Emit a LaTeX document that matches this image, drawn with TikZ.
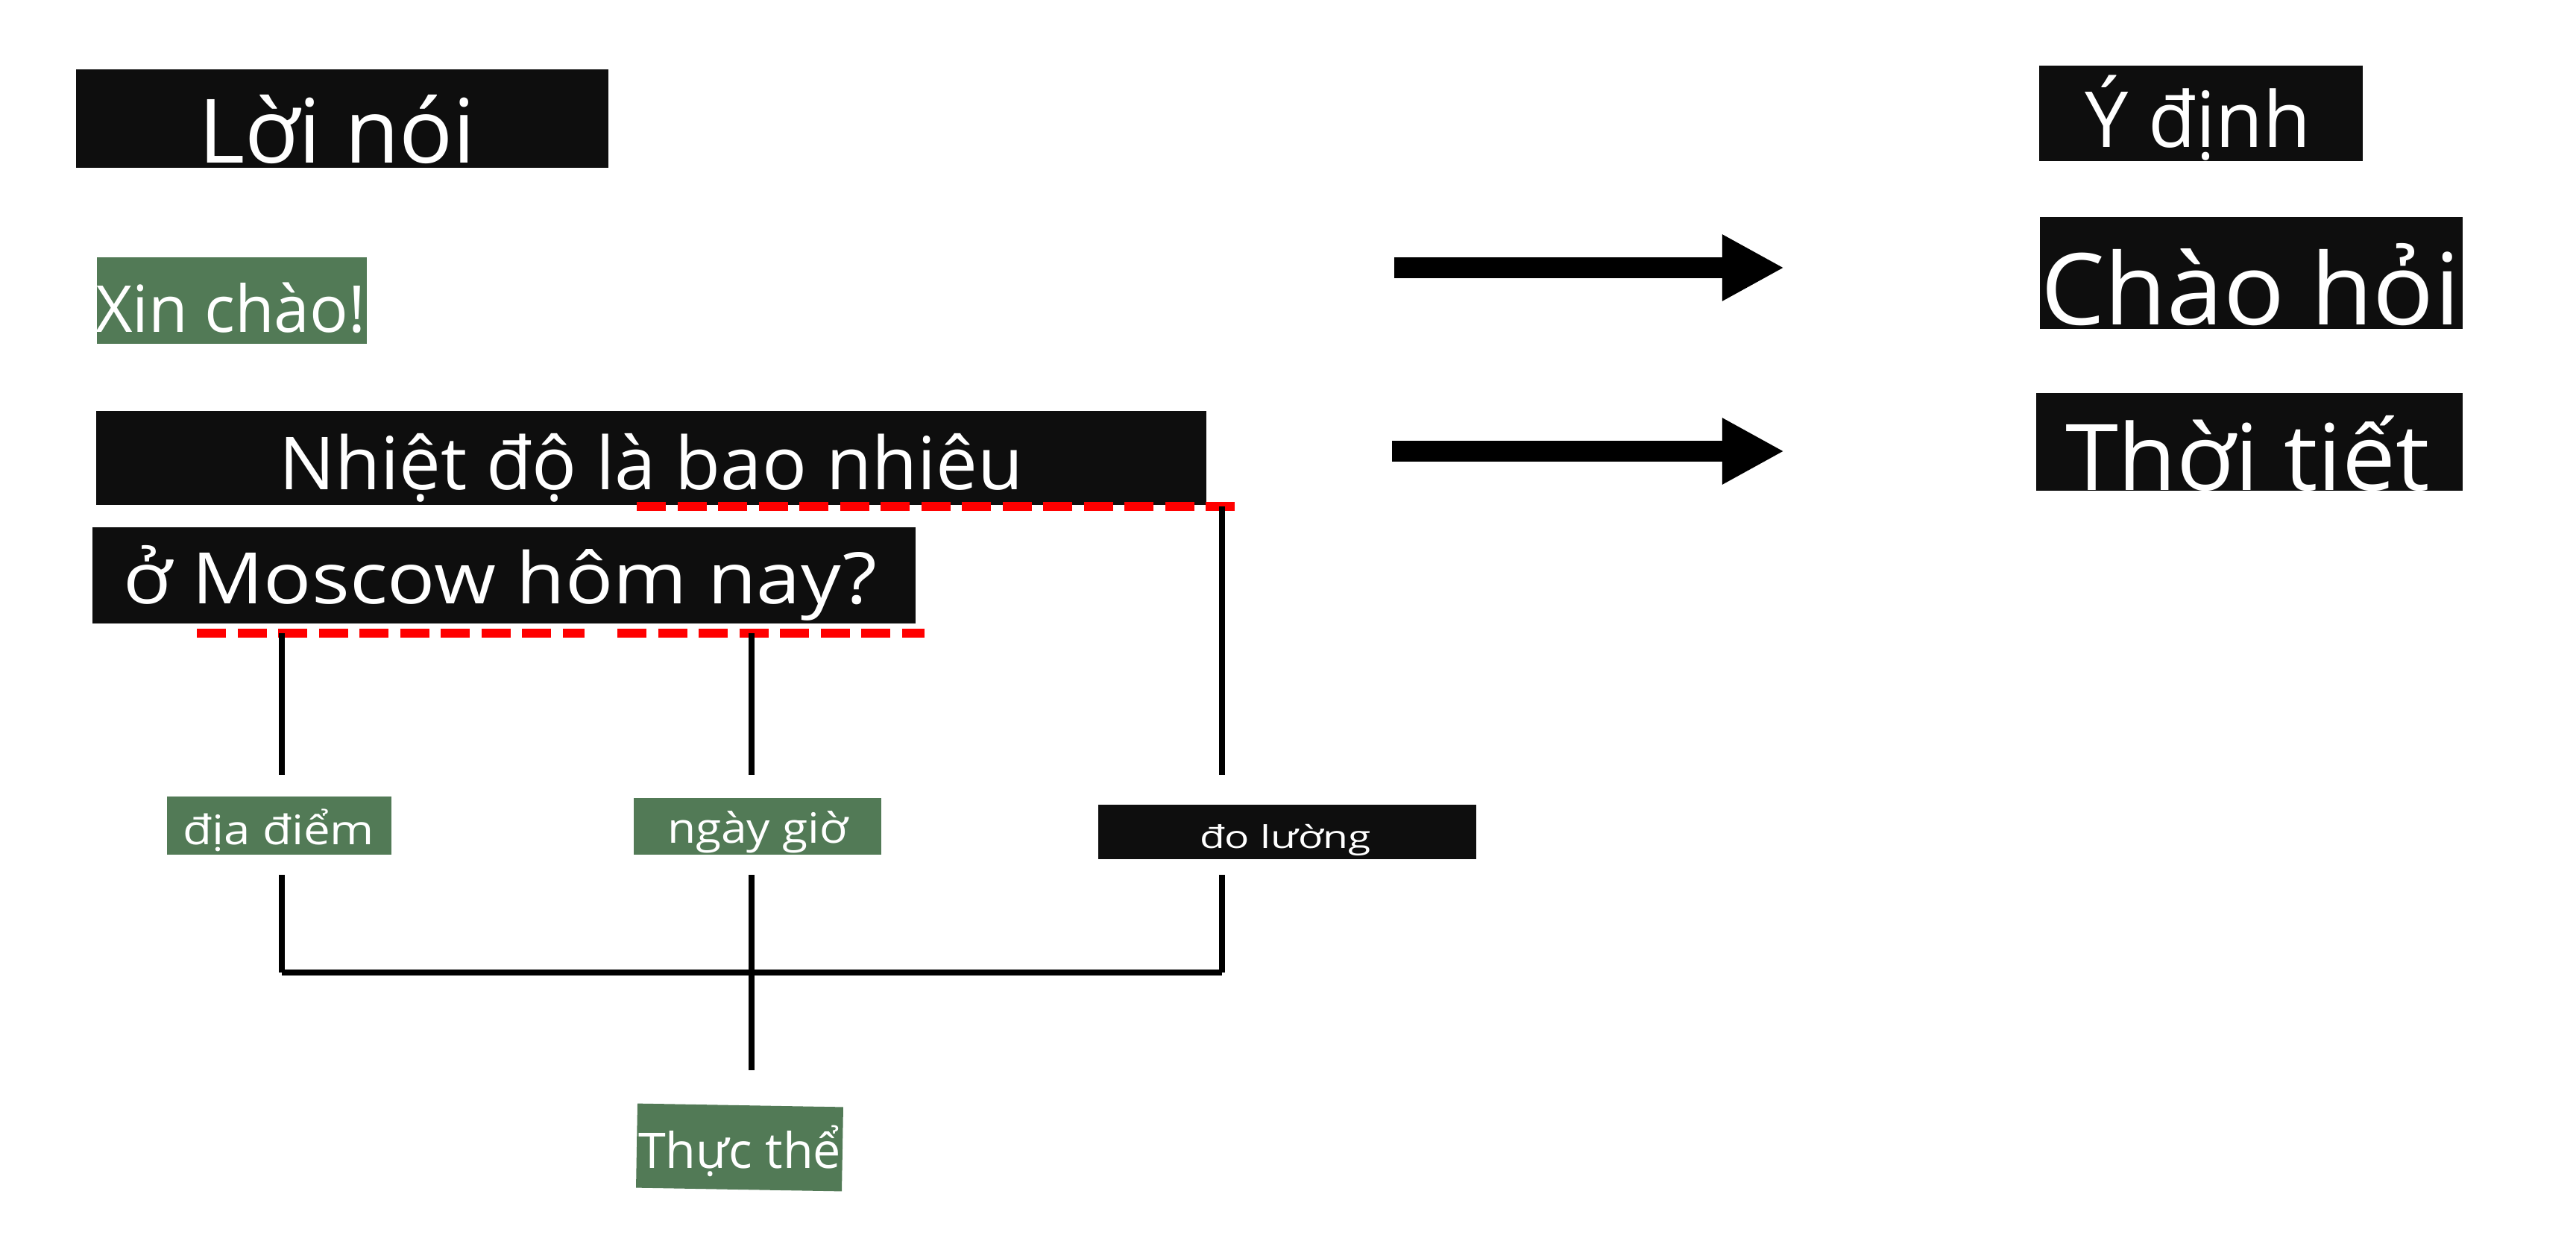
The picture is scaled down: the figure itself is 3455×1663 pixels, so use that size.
\documentclass[tikz,border=0pt]{standalone}
\usepackage{fontspec}
\setmainfont{Open Sans}
\usetikzlibrary{arrows.meta,fit}
\definecolor{boxblack}{HTML}{0E0E0E}
\definecolor{boxgreen}{HTML}{527A56}
\definecolor{dashred}{HTML}{FF0000}
\newcommand{\fitt}[3]{\resizebox{#1cm}{#2cm}{\vphantom{X}\smash{#3}}}
\begin{document}
\begin{tikzpicture}[x=0.01cm, y=-0.01cm,
  bx/.style={inner sep=0, outer sep=0, draw=none},
  blk/.style={bx, fill=boxblack},
  grn/.style={bx, fill=boxgreen},
  lbl/.style={inner sep=0, outer sep=0, anchor=base west, text=white},
  link/.style={line width=0.08cm, black},
  redline/.style={line width=0.12cm, dashred, dash pattern=on 0.39cm off 0.155cm},
  bigarrow/.style={line width=0.28cm, black, -{Triangle[length=0.83cm, width=0.83cm]}}]
\useasboundingbox (0,0) rectangle (3455,1663);
% boxes
\node[blk, fit={(102,93) (816,225)}] (lnb) {};
\node[grn, fit={(130,345) (492,461)}] (xcb) {};
\node[blk, fit={(129,551) (1618,677)}] (ndb) {};
\node[blk, fit={(124,707) (1228,836)}] (omb) {};
\node[grn, fit={(224,1068) (525,1146)}] (ddb) {};
\node[grn, fit={(850,1070) (1182,1146)}] (ngb) {};
\node[blk, fit={(1473,1079) (1980,1152)}] (dlb) {};
\node[grn, rotate=-1, fit={(854,1482) (1130,1595)}] (ttb) {};
\node[blk, fit={(2735,88) (3169,216)}] (ydb) {};
\node[blk, fit={(2736,291) (3303,441)}] (chb) {};
\node[blk, fit={(2731,527) (3303,658)}] (tgb) {};
% texts
\node[lbl] (ln) at (266,218) {\fitt{3.72}{0.85}{Lời nói}};
\node[lbl] (xc) at (128,445) {\fitt{3.62}{0.62}{Xin chào!}};
\node[lbl] (nd) at (374,656) {\fitt{9.98}{0.70}{Nhiệt độ là bao nhiêu}};
\node[lbl] (om) at (165,809) {\fitt{10.10}{0.68}{ở Moscow hôm nay?}};
\node[lbl] (dd) at (245,1132) {\fitt{2.57}{0.39}{địa điểm}};
\node[lbl] (ng) at (895,1130) {\fitt{2.42}{0.40}{ngày giờ}};
\node[lbl] (dl) at (1609,1137) {\fitt{2.30}{0.30}{đo lường}};
\node[lbl] (tt) at (856,1566) {\fitt{2.72}{0.47}{Thực thể}};
\node[lbl] (yd) at (2796,197) {\fitt{3.03}{0.74}{Ý định}};
\node[lbl] (ch) at (2737,435) {\fitt{5.62}{0.95}{Chào hỏi}};
\node[lbl] (tg) at (2770,657) {\fitt{4.88}{0.88}{Thời tiết}};
% red dashed underlines
\coordinate (r1a) at (854,679);  \coordinate (r1b) at (1661,679);
\coordinate (r2a) at (264,849);  \coordinate (r2b) at (784,849);
\coordinate (r3a) at (828,849);  \coordinate (r3b) at (1240,849);
\draw[redline] (r1a) -- (r1b);
\draw[redline] (r2a) -- (r2b);
\draw[redline] (r3a) -- (r3b);
% connector lines
\coordinate (p1) at (378,849);   \coordinate (p1b) at (378,1039);
\coordinate (p2) at (1008,849);  \coordinate (p2b) at (1008,1039);
\coordinate (p3) at (1639,679);  \coordinate (p3b) at (1639,1039);
\coordinate (q1) at (378,1173);  \coordinate (q1b) at (378,1304);
\coordinate (q2) at (1008,1173); \coordinate (q2b) at (1008,1435);
\coordinate (q3) at (1639,1173); \coordinate (q3b) at (1639,1304);
\draw[link] (p1) -- (p1b);
\draw[link] (p2) -- (p2b);
\draw[link] (p3) -- (p3b);
\draw[link] (q1) -- (q1b);
\draw[link] (q2) -- (q2b);
\draw[link] (q3) -- (q3b);
\draw[link] (q1b) -- (q3b);
% big arrows
\coordinate (a1s) at (1870,359); \coordinate (a1e) at (2393,359);
\coordinate (a2s) at (1867,605); \coordinate (a2e) at (2393,605);
\draw[bigarrow] (a1s) -- (a1e);
\draw[bigarrow] (a2s) -- (a2e);
\end{tikzpicture}
\end{document}
